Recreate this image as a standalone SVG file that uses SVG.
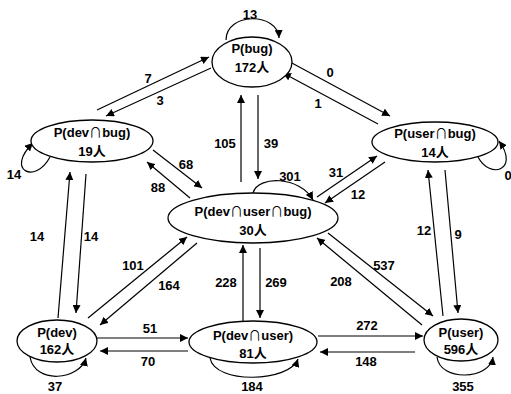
<svg xmlns="http://www.w3.org/2000/svg" width="511" height="394" viewBox="0 0 511 394">
  <style>
    .node ellipse { fill: #fff; stroke: #000; stroke-width: 1.3; }
    .node text { font-family: "Liberation Sans", "Noto Sans CJK SC", sans-serif; font-weight: bold; font-size: 13px; text-anchor: middle; fill: #000; }
    .node .cap { font-family: "Noto Sans CJK SC", sans-serif; font-weight: normal; }
    .edges line, .edges path { stroke: #000; stroke-width: 1.2; fill: none; marker-end: url(#arrow); }
    .lbl { font-family: "Liberation Sans", sans-serif; font-weight: bold; font-size: 13px; text-anchor: middle; fill: #000; }
  </style>
  <defs>
    <marker id="arrow" viewBox="0 0 10 10" refX="10" refY="5" markerWidth="8" markerHeight="8" markerUnits="userSpaceOnUse" orient="auto">
      <path d="M0,0 L10,5 L0,10 z" fill="#000"/>
    </marker>
  </defs>

  <!-- connectors -->
  <g class="edges">
    <!-- self loops -->
    <path d="M226,40 C226,12 278,12 279,38"/>
    <path d="M50,157 C35,185 5,170 33,143"/>
    <path d="M478,157 C490,180 520,170 499,141"/>
    <path d="M253,193 C258,175 300,176 313,200"/>
    <path d="M30,357 C35,385 80,380 86,358"/>
    <path d="M210,358 C215,385 290,382 298,359"/>
    <path d="M437,357 C440,382 490,380 493,357"/>

    <!-- bug <-> dev∩bug -->
    <line x1="97" y1="110" x2="209" y2="57"/>
    <line x1="211" y1="68" x2="106" y2="116"/>
    <!-- bug <-> user∩bug -->
    <line x1="290" y1="62" x2="390" y2="116"/>
    <line x1="378" y1="124" x2="283" y2="73"/>
    <!-- bug <-> dev∩user∩bug -->
    <line x1="241" y1="182" x2="241" y2="95"/>
    <line x1="258" y1="95" x2="258" y2="179"/>
    <!-- dev∩bug <-> dev∩user∩bug -->
    <line x1="153" y1="150" x2="202" y2="188"/>
    <line x1="190" y1="198" x2="147" y2="162"/>
    <!-- user∩bug <-> dev∩user∩bug -->
    <line x1="317" y1="197" x2="377" y2="156"/>
    <line x1="385" y1="162" x2="325" y2="203"/>
    <!-- user∩bug <-> user -->
    <line x1="443" y1="316" x2="428" y2="170"/>
    <line x1="445" y1="170" x2="458" y2="313"/>
    <!-- dev∩bug <-> dev -->
    <line x1="58" y1="318" x2="70" y2="172"/>
    <line x1="86" y1="174" x2="76" y2="313"/>
    <!-- dev <-> dev∩user∩bug -->
    <line x1="88" y1="318" x2="187" y2="237"/>
    <line x1="197" y1="243" x2="100" y2="325"/>
    <!-- dev∩user <-> dev∩user∩bug -->
    <line x1="243" y1="322" x2="243" y2="245"/>
    <line x1="260" y1="248" x2="260" y2="318"/>
    <!-- user <-> dev∩user∩bug -->
    <line x1="328" y1="233" x2="433" y2="316"/>
    <line x1="422" y1="325" x2="317" y2="238"/>
    <!-- dev <-> dev∩user -->
    <line x1="97" y1="338" x2="188" y2="338"/>
    <line x1="188" y1="351" x2="100" y2="351"/>
    <!-- dev∩user <-> user -->
    <line x1="318" y1="336" x2="423" y2="336"/>
    <line x1="415" y1="352" x2="320" y2="352"/>
  </g>

  <!-- connector labels -->
  <g>
    <text class="lbl" x="250" y="19">13</text>
    <text class="lbl" x="14" y="179">14</text>
    <text class="lbl" x="508" y="180">0</text>
    <text class="lbl" x="290" y="181">301</text>
    <text class="lbl" x="55" y="391">37</text>
    <text class="lbl" x="252" y="391">184</text>
    <text class="lbl" x="463" y="391">355</text>
    <text class="lbl" x="148" y="83">7</text>
    <text class="lbl" x="160" y="105">3</text>
    <text class="lbl" x="330" y="77">0</text>
    <text class="lbl" x="318" y="108">1</text>
    <text class="lbl" x="225" y="148">105</text>
    <text class="lbl" x="271" y="148">39</text>
    <text class="lbl" x="186" y="169">68</text>
    <text class="lbl" x="158" y="192">88</text>
    <text class="lbl" x="336" y="177">31</text>
    <text class="lbl" x="358" y="199">12</text>
    <text class="lbl" x="424" y="235">12</text>
    <text class="lbl" x="458" y="239">9</text>
    <text class="lbl" x="37" y="241">14</text>
    <text class="lbl" x="91" y="241">14</text>
    <text class="lbl" x="133" y="270">101</text>
    <text class="lbl" x="169" y="290">164</text>
    <text class="lbl" x="226" y="287">228</text>
    <text class="lbl" x="276" y="287">269</text>
    <text class="lbl" x="384" y="270">537</text>
    <text class="lbl" x="341" y="286">208</text>
    <text class="lbl" x="150" y="333">51</text>
    <text class="lbl" x="148" y="366">70</text>
    <text class="lbl" x="367" y="330">272</text>
    <text class="lbl" x="366" y="366">148</text>
  </g>

  <!-- nodes -->
  <g id="bug" class="node">
    <ellipse cx="252" cy="62" rx="40" ry="25"/>
    <text x="252" y="53">P(bug)</text>
    <text x="252" y="72">172人</text>
  </g>
  <g id="dev-bug" class="node">
    <ellipse cx="92" cy="141" rx="61" ry="21"/>
    <text x="92" y="137">P(dev<tspan class="cap">∩</tspan>bug)</text>
    <text x="92" y="156">19人</text>
  </g>
  <g id="user-bug" class="node">
    <ellipse cx="435" cy="142" rx="63" ry="20"/>
    <text x="435" y="138">P(user<tspan class="cap">∩</tspan>bug)</text>
    <text x="435" y="157">14人</text>
  </g>
  <g id="dev-user-bug" class="node">
    <ellipse cx="253" cy="218" rx="85" ry="25"/>
    <text x="253" y="216">P(dev<tspan class="cap">∩</tspan>user<tspan class="cap">∩</tspan>bug)</text>
    <text x="253" y="235">30人</text>
  </g>
  <g id="dev" class="node">
    <ellipse cx="57" cy="341" rx="40" ry="21"/>
    <text x="57" y="337">P(dev)</text>
    <text x="57" y="354">162人</text>
  </g>
  <g id="dev-user" class="node">
    <ellipse cx="253" cy="342" rx="64" ry="21"/>
    <text x="253" y="340">P(dev<tspan class="cap">∩</tspan>user)</text>
    <text x="253" y="358">81人</text>
  </g>
  <g id="user" class="node">
    <ellipse cx="461" cy="340" rx="37" ry="21"/>
    <text x="461" y="337">P(user)</text>
    <text x="461" y="354">596人</text>
  </g>
</svg>
